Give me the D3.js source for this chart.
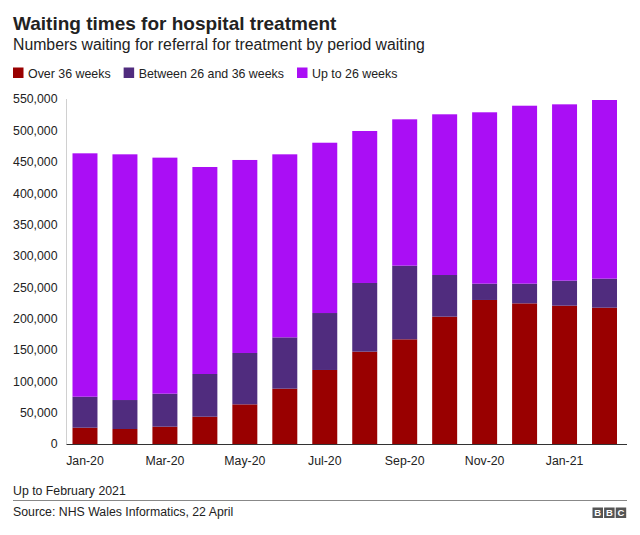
<!DOCTYPE html>
<html>
<head>
<meta charset="utf-8">
<script src="https://cdn.jsdelivr.net/npm/d3@7"></script>
<style>
  html, body { margin: 0; padding: 0; background: #fff; }
  svg { display: block; font-family: "Liberation Sans", Arial, Helvetica, sans-serif; }
</style>
</head>
<body>
<svg id="chart" width="640" height="535"></svg>
<script>
const months = ["Jan-20","Feb-20","Mar-20","Apr-20","May-20","Jun-20","Jul-20","Aug-20","Sep-20","Oct-20","Nov-20","Dec-20","Jan-21","Feb-21"];
const over36 = [26000, 23900, 27600, 43500, 63200, 88200, 118000, 147200, 166900, 203000, 229600, 224200, 220500, 217300];
const between26and36 = [49400, 46200, 52600, 68100, 81900, 81800, 90800, 109500, 117400, 66400, 26000, 31400, 39900, 46300];
const upTo26 = [388000, 391700, 376300, 330000, 307700, 291800, 271500, 242300, 233300, 256200, 273200, 283700, 281100, 284800];
const seriesNames = ["Over 36 weeks", "Between 26 and 36 weeks", "Up to 26 weeks"];
const seriesKeys = ["over36", "between", "upto26"];
const colors = ["#990000", "#502c7e", "#aa0ef5"];
const yTicks = [0, 50000, 100000, 150000, 200000, 250000, 300000, 350000, 400000, 450000, 500000, 550000];
const xTickLabels = ["Jan-20","Mar-20","May-20","Jul-20","Sep-20","Nov-20","Jan-21"];
const titleText = "Waiting times for hospital treatment";
const subtitleText = "Numbers waiting for referral for treatment by period waiting";
const noteText = "Up to February 2021";
const sourceText = "Source: NHS Wales Informatics, 22 April";

const rows = months.map((m, i) => ({ month: m, over36: over36[i], between: between26and36[i], upto26: upTo26[i] }));

const svg = d3.select("#chart");
const plotL = 66.5, plotR = 627, plotT = 99, plotB = 444;

const x = d3.scaleBand().domain(months).range([plotL, plotR]).paddingInner(0.375).paddingOuter(0.2).align(0.375);
const y = d3.scaleLinear().domain([0, 550000]).range([plotB, plotT]);

// Title & subtitle
svg.append("text").attr("x", 13).attr("y", 30).attr("font-size", 19).attr("font-weight", "bold").attr("fill", "#222").text(titleText);
svg.append("text").attr("x", 13).attr("y", 50).attr("font-size", 15.8).attr("fill", "#222").text(subtitleText);

// Legend
let lx = 13;
seriesNames.forEach((name, i) => {
  const g = svg.append("g");
  g.append("rect").attr("x", lx).attr("y", 67.5).attr("width", 10.5).attr("height", 10.5).attr("fill", colors[i]);
  const t = g.append("text").attr("x", lx + 15).attr("y", 77.5).attr("font-size", 12.4).attr("fill", "#222").text(name);
  const w = t.node().getComputedTextLength();
  lx = lx + 15 + w + 13;
});

// Left axis line (light)
svg.append("line").attr("x1", plotL).attr("x2", plotL).attr("y1", plotT).attr("y2", plotB).attr("stroke", "#d0d0d0").attr("stroke-width", 1);

// Y axis labels
const yAxis = d3.axisLeft(y).tickValues(yTicks).tickSize(0).tickPadding(9).tickFormat(d3.format(","));
const yg = svg.append("g").attr("transform", `translate(${plotL},0)`).call(yAxis);
yg.select(".domain").remove();
yg.selectAll("text").attr("font-size", 12.3).attr("fill", "#222").attr("font-family", "Liberation Sans, Arial, sans-serif");

// Stacked bars
const stack = d3.stack().keys(seriesKeys);
const stacked = stack(rows);
svg.append("g").selectAll("g").data(stacked).join("g")
  .attr("fill", (d, i) => colors[i])
  .selectAll("rect").data(d => d).join("rect")
  .attr("x", d => x(d.data.month))
  .attr("width", x.bandwidth())
  .attr("y", d => y(d[1]))
  .attr("height", d => y(d[0]) - y(d[1]));

// Baseline
svg.append("line").attr("x1", plotL).attr("x2", plotR).attr("y1", plotB + 0.5).attr("y2", plotB + 0.5).attr("stroke", "#333").attr("stroke-width", 1.2);

// X axis labels
const xAxis = d3.axisBottom(x).tickValues(xTickLabels).tickSize(0).tickPadding(12);
const xg = svg.append("g").attr("transform", `translate(0,${plotB})`).call(xAxis);
xg.select(".domain").remove();
xg.selectAll("text").attr("font-size", 12.3).attr("fill", "#222").attr("font-family", "Liberation Sans, Arial, sans-serif");

// Footer
svg.append("text").attr("x", 13).attr("y", 495).attr("font-size", 12.3).attr("fill", "#222").text(noteText);
svg.append("line").attr("x1", 13).attr("x2", 627).attr("y1", 500.5).attr("y2", 500.5).attr("stroke", "#888").attr("stroke-width", 1.2);
svg.append("text").attr("x", 13).attr("y", 515.5).attr("font-size", 12.3).attr("fill", "#222").text(sourceText);

// BBC logo
const logo = svg.append("g");
["B","B","C"].forEach((ch, i) => {
  const bx = 592.5 + i * 11.6;
  logo.append("rect").attr("x", bx).attr("y", 507.5).attr("width", 10.5).attr("height", 10.5).attr("fill", "#555");
  logo.append("text").attr("x", bx + 5.25).attr("y", 516.3).attr("text-anchor", "middle").attr("font-size", 9.5).attr("font-weight", "bold").attr("fill", "#fff").text(ch);
});
</script>
</body>
</html>
